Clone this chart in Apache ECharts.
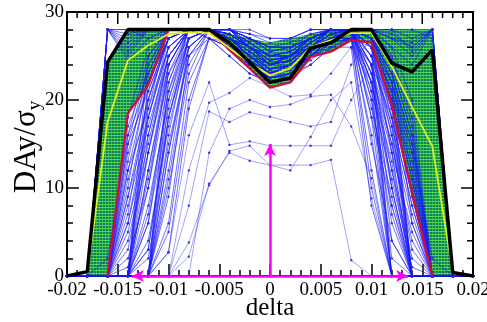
<!DOCTYPE html>
<html><head><meta charset="utf-8">
<script src="https://cdn.jsdelivr.net/npm/echarts@6/dist/echarts.min.js"></script>
<style>html,body{margin:0;padding:0;background:#fff}#c{width:487px;height:322px}</style>
</head><body><div id="c"></div>
<script>
// ---- data ----
const deltas = [-0.02,-0.018,-0.016,-0.014,-0.012,-0.010,-0.008,-0.006,-0.004,-0.002,0,0.002,0.004,0.006,0.008,0.010,0.012,0.014,0.016,0.018,0.02];
const xTickLabels = ['-0.02','-0.015','-0.01','-0.005','0','0.005','0.01','0.015','0.02'];
const yTickLabels = ['0','10','20','30'];
const blackLine  = [0,0.5,24.3,28,28,28,28,28,26.5,24.3,22.0,22.5,25.9,26.5,28,28,24.2,23.2,25.7,0.4,0];
const yellowLine = [null,0.3,17.5,24.5,26.2,27.5,27.7,27.6,25.9,24.2,22.8,23.6,26.0,26.8,27.6,27.6,23.8,19.2,14.7,0.5,null];
const redLine    = [null,null,0,18.5,21.7,28,28,28,25.7,23.6,21.4,22.0,24.9,25.5,26.8,26.5,19.5,9.5,0,null,null];
const greenTop    = [null,0.5,24.3,28,28,28,28,28,27.5,27,26.5,27,27.5,28,28,28,28,28,28,0.4,null];
const greenBottom = [null,0,0,18.5,21.7,28,28,28,25.7,23.6,21.4,22.0,24.9,25.5,26.8,26.5,19.5,9.5,0,0,null];
const arrowH = [-0.0136, 0.0136];
const arrowV = [0, 15];

const blueGroupB = [
 [0,0,28,28,28,28,28,28,28,26,24.5,25,27,28,28,28,28,28,28,0,0],
 [0,0,28,26,28,28,28,27,26,24.5,23,24,26,27.5,28,28,27,25,28,0,0],
 [0,0,28,24.5,27,28,28,28,27,25.5,23.5,24.5,26.5,28,28,28,26,24,28,0,0],
 [0,0,28,27,28,28,28,28,28,27,26,26.5,27.5,28,28,28,28,27,28,0,0],
 [0,0,28,25.5,28,28,28,28,27.5,26,25,25.5,27,28,28,28,27.5,26,28,0,0],
 [0,0,28,28,27,28,28,28,28,27.5,27,27,28,28,28,28,28,28,27,0,0],
 [0,0,28,27.5,28,28,28,28,27,26,24,25,26.5,28,28,28,27,26.5,28,0,0],
 [0,0,28,26.5,28,28,28,28,28,26.5,25,25.5,27,28,28,28,28,25.5,28,0,0]
];
const blueGroupC = [
 [0,0,0,18,26,28,28,28,28,26.5,25,25.5,27,28,28,28,24,16,0,0,0],
 [0,0,0,15,24,28,28,28,27,25,23,24,26,28,28,27,22,12,0,0,0],
 [0,0,0,12,22,27,28,28,26,24,22.5,23,25,27,28,26,20,9,0,0,0],
 [0,0,0,9,20,27,28,28,28,26,24,25,27,28,28,28,25,18,0,0,0],
 [0,0,0,6,18,26,28,28,27,25,23.5,24,26,27,28,27,23,14,0,0,0],
 [0,0,0,16,25,28,28,28,28,27,25.5,26,27,28,28,28,26,20,0,0,0],
 [0,0,0,3,14,25,28,28,27.5,26,24,24.5,26,27.5,28,28,24,6,0,0,0],
 [0,0,0,10,23,28,28,28,26.5,24.5,22,22.5,25,27,28,27,21,11,0,0,0]
];
const blueGroupD = [
 [0,0,0,0,22,28,28,28,28,27,26,26,27,28,28,27,18,0,0,0,0],
 [0,0,0,0,18,27,28,28,27,25,23,24,26,28,28,26,14,0,0,0,0],
 [0,0,0,0,14,25,28,28,26,24,22.5,23,25,27,28,25,10,0,0,0,0],
 [0,0,0,0,10,24,28,27,25,23,22,23,24,26,27,24,7,0,0,0,0],
 [0,0,0,0,6,21,27,28,28,26,25,25,27,28,28,23,4,0,0,0,0],
 [0,0,0,0,25,28,28,28,28,28,27,27,28,28,28,28,22,0,0,0,0],
 [0,0,0,0,20,28,28,28,27,26,24,25,26,28,28,28,20,0,0,0,0],
 [0,0,0,0,16,26,28,28,28,26,24.5,25,26.5,28,28,26,16,0,0,0,0],
 [0,0,0,0,12,23,27,28,27,25,23.5,24,25.5,27,27.5,22,12,0,0,0,0],
 [0,0,0,0,3,18,26,28,28,27,26,26,27,28,28,21,2,0,0,0,0]
];
const blueGroupE = [
 [0,0,0,0,0,20,28,28,28,26,24,25,27,28,28,20,0,0,0,0,0],
 [0,0,0,0,0,16,27,28,27,25,23,24,26,27,27,16,0,0,0,0,0],
 [0,0,0,0,0,12,26,28,26,24,22.5,23.5,25,26,27,12,0,0,0,0,0],
 [0,0,0,0,0,24,28,28,27,26,25,25,26,27,28,24,0,0,0,0,0],
 [0,0,0,0,0,6,22,27,25,23,22,22.5,24,26,26,8,0,0,0,0,0],
 [0,0,0,0,0,9,25,28,28,27,25.5,26,27,28,28,18,0,0,0,0,0],
 [0,0,0,0,0,2.7,19,27,26,24.5,23,23.5,25,26.5,27,10,0,0,0,0,0],
 [0,0,0,0,0,22,28,28,27.5,26,24,24.5,26.5,28,28,26,0,0,0,0,0]
];
const blueGroupF = [
 [0,0,0,15,21,27,28,28,27,25.5,24,24.5,26,27.5,28,26,19,9,0,0,0],
 [0,0,0,12,19,26,28,28,26.5,25,23,23.5,25.5,27,27.5,25,17,7,0,0,0],
 [0,0,0,8,17,25,28,28,27.5,26,24.5,25,26.5,28,28,23,14,5,0,0,0],
 [0,0,0,4,14,24,28,28,26,24,22.5,23,25,26.5,27.5,24,12,2,0,0,0],
 [0,0,0,0,12,24,28,28,28,26.5,25,25.5,27,28,28,22,10,0,0,0,0],
 [0,0,0,0,8,20,27,28,27,25,23.5,24,26,27.5,28,20,6,0,0,0,0],
 [0,0,0,0,4,17,26,28,26.5,24.5,22.5,23,25,27,27,26,21,12,0,0,0],
 [0,0,0,0,0,14,25,28,27.5,26,24,24.5,26,27.5,28,27,22,14,0,0,0],
 [0,0,0,17,23,28,28,28,28,27,26,26,27,28,28,27,23,15,2,0,0],
 [0,0,2,16,22,27,28,28,27,25.5,24,24.5,26,27.5,28,26,18,8,0,0,0],
 [0,0,0,11,20,27,28,28,28,27.5,26.5,27,28,28,28,25,16,6,0,0,0],
 [0,0,0,6,16,25,28,28,27,25,23,23.5,25.5,27,28,26,20,11,0,0,0],
 [0,0,0,2,10,22,28,28,27.5,26,24,25,26.5,28,28,24,15,4,0,0,0],
 [0,0,0,0,6,19,27,28,26,24,22.5,23,24.5,26.5,27,21,11,1,0,0,0],
 [0,0,0,0,2,15,25,27,26.5,25,23.5,24,25.5,27,27.5,18,8,0,0,0,0],
 [0,0,0,0,0,10,23,28,27,25.5,24,24.5,26,27.5,27.5,15,4,0,0,0,0],
 [0,0,0,14,22,28,28,28,27.5,26,24.5,25,26.5,28,28,28,25,17,0,0,0],
 [0,0,0,9,18,26,28,28,26,24.5,23,23.5,25,27,28,27,24,16,0,0,0],
 [0,0,0,5,15,25,28,28,28,27,25.5,26,27.5,28,28,26,22,13,0,0,0],
 [0,0,0,1,11,23,28,28,27,25.5,23.5,24,26,27.5,28,25,19,10,0,0,0],
 [0,0,0,0,7,21,28,28,27.5,26.5,25,25.5,27,28,28,24,18,8,0,0,0],
 [0,0,0,0,3,18,27,28,26.5,25,23,23.5,25,27,27.5,23,15,3,0,0,0],
 [0,0,0,0,0,11,24,28,27,26,24.5,25,26.5,28,28,22,13,0,0,0,0],
 [0,0,0,0,0,5,20,27,26,24.5,23,23.5,25,26.5,27,19,9,0,0,0,0]
];
const blueMixed = [
 [0,0,0,13,24,28,28,28,27,25,23,24,26,27,28,22,0,0,0,0,0],
 [0,0,0,0,0,18,27,28,27,26,24,25,27,28,28,27,23,15,0,0,0],
 [0,0,28,25,28,28,28,28,27,25,24,25,26,28,28,27,19,0,0,0,0],
 [0,0,0,0,19,28,28,28,28,26,25,25,27,28,28,28,27,26,28,0,0],
 [0,0,0,0,0,14,26,28,27,25,23,23.5,25.5,27,28,26,17,0,0,0,0],
 [0,0,0,7,21,27,28,28,26,24,22.5,23,25,27,28,26,21,0,0,0,0]
];
const blueSparse = [
 [0,0,0,0,0,0,12,19.7,20.8,22.5,21.5,20.4,20.6,23,26,22,8,0,0,0,0],
 [0,0,0,0,0,0,8,18.7,17.5,18.6,18.1,17.5,17,17.5,24,27,14,0,0,0,0],
 [0,0,0,0,0,2.7,16,22,14.9,15.3,14.8,14.8,14.8,14.8,20,24,10,0,0,0,0],
 [0,0,0,0,0,0,3.8,10.3,14.2,14.8,12.6,12.6,12.6,13.2,1.8,0,0,0,0,0,0],
 [0,0,0,0,0,0,2.2,10.5,14,13.1,12.6,12,15.8,20,22,8.8,0,0,0,0,0],
 [0,0,0,0,0,0,0,14,19,20,19.2,19.5,20.4,20.6,17,11.1,0,0,0,0,0]
];
const blueDense = [].concat(blueGroupB, blueGroupC, blueGroupD, blueGroupE, blueGroupF, blueMixed);

// axis settings (also used for the mirrored top/right ticks)
const X_MIN = -0.02, X_MAX = 0.02, X_STEP = 0.005, X_MINOR = 5;
const Y_MIN = 0, Y_MAX = 30, Y_STEP = 10, Y_MINOR = 5;
const MAJOR_LEN = 12, MINOR_LEN = 6;

// ---- helpers ----
const pair = arr => deltas.map((d,i)=> [d, arr[i]==null ? null : arr[i]]);
const FONT = 'Liberation Serif';

const tile = document.createElement('canvas');
tile.width = 3; tile.height = 3;
(function(){
  const g = tile.getContext('2d');
  g.fillStyle = '#0a7650'; g.fillRect(0,0,3,3);
  g.fillStyle = '#3fdc48'; g.fillRect(0,0,3,1);
  g.fillStyle = '#2cb04c'; g.fillRect(0,1,1,2);
})();

const series = [];
series.push({
  type:'custom', coordinateSystem:'cartesian2d', z:1, silent:true, animation:false,
  data:[[0,0]],
  renderItem:(params, api) => {
    const pts = [];
    deltas.forEach((d,i)=>{ if (greenTop[i]!=null) pts.push(api.coord([d, greenTop[i]])); });
    for (let i = deltas.length-1; i>=0; i--) if (greenBottom[i]!=null) pts.push(api.coord([deltas[i], greenBottom[i]]));
    return {type:'polygon', shape:{points:pts}, style:{fill:{image:tile, repeat:'repeat'}, opacity:0.95}};
  }
});
function blueSeries(ln, alpha){
  return {
    type:'line', data: pair(ln), z: 2, silent:true, animation:false,
    symbol:'circle', symbolSize: 2.4, showSymbol:true,
    lineStyle:{color:'rgba(25,25,255,'+alpha+')', width:1},
    itemStyle:{color:'rgba(40,40,210,0.9)', borderWidth:0}
  };
}
blueDense.forEach(ln => series.push(blueSeries(ln, 0.62)));
blueSparse.forEach(ln => series.push(blueSeries(ln, 0.4)));
series.push({type:'line', data: pair(redLine), z:5, symbol:'none', silent:true, animation:false,
  lineStyle:{color:'#c8103f', width:2.4}});
series.push({type:'line', data: pair(yellowLine), z:5, symbol:'none', silent:true, animation:false,
  lineStyle:{color:'#e4f01e', width:1.8}});
series.push({type:'line', data: pair(blackLine), z:6, symbol:'none', silent:true, animation:false,
  lineStyle:{color:'#000', width:3.5}});
series.push({type:'line', data:[], z:8, silent:true, animation:false,
  markLine:{silent:true, animation:false, symbol:['arrow','arrow'], symbolSize:[9,12], label:{show:false},
    lineStyle:{color:'#ff00ff', width:2.5, type:'solid'},
    data:[[{coord:[arrowH[0],0]},{coord:[arrowH[1],0]}]]}});
series.push({type:'line', data:[], z:8, silent:true, animation:false,
  markLine:{silent:true, animation:false, symbol:['none','arrow'], symbolSize:[9,12], label:{show:false},
    lineStyle:{color:'#ff00ff', width:2.5, type:'solid'},
    data:[[{coord:[0,arrowV[0]]},{coord:[0,arrowV[1]]}]]}});

const axisBase = (extra) => Object.assign({
  type:'value', splitLine:{show:false},
  axisLine:{show:true, onZero:false, lineStyle:{color:'#000', width:2}},
  axisTick:{show:true, inside:true, length:MAJOR_LEN, lineStyle:{color:'#000', width:1.5}}
}, extra);

const yLabel = {
  id:'ylabel', type:'text', x:27, y:147, rotation:Math.PI/2, z:10,
  style:{
    text:'{a|DAy/σ}{b|y}', align:'center', verticalAlign:'middle',
    rich:{
      a:{fontFamily:FONT, fontSize:31, fill:'#000', lineHeight:34},
      b:{fontFamily:FONT, fontSize:19, fill:'#000', lineHeight:34, padding:[16,0,0,0]}
    }
  }
};

const chart = echarts.init(document.getElementById('c'), null, {renderer:'canvas'});
chart.setOption({
  animation:false,
  backgroundColor:'#fff',
  grid:{left:67, right:14, top:12, bottom:46, containLabel:false, outerBoundsMode:'none'},
  xAxis: axisBase({min:X_MIN, max:X_MAX, interval:X_STEP, position:'bottom',
    minorTick:{show:true, splitNumber:X_MINOR, length:MINOR_LEN, lineStyle:{color:'#000', width:1.5}},
    axisLabel:{margin:5, fontFamily:FONT, fontSize:19, color:'#000',
      formatter: v => xTickLabels[Math.round((v - X_MIN)/X_STEP)]},
    name:'delta', nameLocation:'middle', nameGap:20, nameMoveOverlap:false,
    nameTextStyle:{fontFamily:FONT, fontSize:25, color:'#000'}}),
  yAxis: axisBase({min:Y_MIN, max:Y_MAX, interval:Y_STEP, position:'left',
    minorTick:{show:true, splitNumber:Y_MINOR, length:MINOR_LEN, lineStyle:{color:'#000', width:1.5}},
    axisLabel:{margin:3, fontFamily:FONT, fontSize:19, color:'#000',
      formatter: v => yTickLabels[Math.round((v - Y_MIN)/Y_STEP)]}}),
  graphic:[yLabel],
  series: series
});

// mirrored frame (top + right) with inward ticks, positioned through the chart's own axis scales
const toPx = p => chart.convertToPixel({gridIndex:0}, p);
const frame = [];
const seg = (a, b, w) => ({type:'line', z:20, silent:true,
  shape:{x1:a[0], y1:a[1], x2:b[0], y2:b[1]}, style:{stroke:'#000', lineWidth:w}});
const xn = Math.round((X_MAX - X_MIN) / X_STEP) * X_MINOR;
for (let k = 0; k <= xn; k++) {
  const p = toPx([X_MIN + k * X_STEP / X_MINOR, Y_MAX]);
  frame.push(seg(p, [p[0], p[1] + (k % X_MINOR === 0 ? MAJOR_LEN : MINOR_LEN)], 1.5));
}
const yn = Math.round((Y_MAX - Y_MIN) / Y_STEP) * Y_MINOR;
for (let k = 0; k <= yn; k++) {
  const p = toPx([X_MAX, Y_MIN + k * Y_STEP / Y_MINOR]);
  frame.push(seg(p, [p[0] - (k % Y_MINOR === 0 ? MAJOR_LEN : MINOR_LEN), p[1]], 1.5));
}
const tl = toPx([X_MIN, Y_MAX]), tr = toPx([X_MAX, Y_MAX]), br = toPx([X_MAX, Y_MIN]);
frame.push(seg([tl[0] - 1, tl[1]], [tr[0] + 1, tr[1]], 2));
frame.push(seg(tr, [br[0], br[1] + 1], 2));
chart.setOption({graphic:[yLabel, {id:'frame', type:'group', z:20, silent:true, children:frame}]});
</script></body></html>
